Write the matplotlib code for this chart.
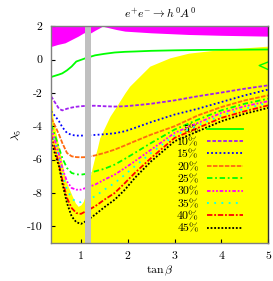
import numpy as np
import matplotlib
matplotlib.use("Agg")
import matplotlib.pyplot as plt

# fonts: computer modern look
plt.rcParams["font.family"] = "cmr10"
plt.rcParams["mathtext.fontset"] = "cm"
plt.rcParams["axes.unicode_minus"] = False
plt.rcParams["font.size"] = 8.5

# tan(beta) grid the curves were read on
tanb = [0.36, 0.45, 0.53, 0.6, 0.7, 0.8, 0.9, 1.0, 1.1, 1.3, 1.5, 1.72, 1.94, 2.15, 2.5, 3.0, 3.5, 4.0, 4.5, 5.0]

lam_5 = [-1.05, -0.97, -0.9, -0.83, -0.65, -0.42, -0.12, -0.02, 0.08, 0.25, 0.34, 0.42, 0.46, 0.48, 0.52, 0.55, 0.57, 0.58, 0.59, 0.6]
lam_10 = [-2.2, -2.6, -2.95, -3.05, -2.95, -2.88, -2.83, -2.8, -2.78, -2.77, -2.8, -2.82, -2.8, -2.75, -2.65, -2.45, -2.2, -1.98, -1.75, -1.55]
lam_15 = [-3.1, -3.4, -3.7, -4.05, -4.4, -4.52, -4.56, -4.56, -4.55, -4.52, -4.48, -4.42, -4.3, -4.1, -3.75, -3.3, -2.95, -2.55, -2.15, -1.8]
lam_20 = [-3.5, -4.0, -4.5, -5.0, -5.6, -5.8, -5.85, -5.86, -5.85, -5.75, -5.6, -5.4, -5.15, -4.9, -4.5, -4.0, -3.35, -2.85, -2.45, -2.15]
lam_25 = [-3.9, -4.6, -5.3, -5.9, -6.5, -6.8, -6.88, -6.9, -6.86, -6.7, -6.55, -6.3, -5.95, -5.6, -5.0, -4.2, -3.6, -3.05, -2.65, -2.35]
lam_30 = [-4.1, -4.9, -5.7, -6.5, -7.3, -7.7, -7.8, -7.8, -7.7, -7.5, -7.2, -6.9, -6.5, -6.1, -5.4, -4.4, -3.8, -3.2, -2.8, -2.5]
lam_35 = [-4.3, -5.1, -6.0, -6.9, -7.8, -8.3, -8.55, -8.55, -8.45, -8.2, -7.8, -7.4, -6.9, -6.4, -5.6, -4.55, -3.95, -3.35, -2.95, -2.6]
lam_40 = [-4.5, -5.4, -6.3, -7.2, -8.3, -8.9, -9.2, -9.25, -9.1, -8.8, -8.4, -8.0, -7.4, -6.8, -5.9, -4.7, -4.1, -3.5, -3.1, -2.75]
lam_45 = [-4.9, -5.7, -6.4, -7.4, -8.6, -9.4, -9.75, -9.85, -9.7, -9.3, -8.85, -8.4, -7.8, -7.1, -6.1, -4.9, -4.3, -3.7, -3.25, -2.9]

# small closed piece of the 5% contour at the right edge
tanb_5b = [5.0, 4.81, 5.0]
lam_5b = [-0.15, -0.36, -0.6]

# yellow region (below this boundary)
tanb_yel = [0.36, 0.4, 0.47, 0.55, 0.62, 0.68, 0.8, 0.88, 0.94, 1.0, 1.05, 1.15, 1.23, 1.3, 1.35, 1.4, 1.62, 1.76, 1.94, 2.04, 2.47, 2.9, 3.3, 4.0, 5.0]
lam_yel = [-1.8, -3.5, -4.5, -5.5, -6.5, -7.3, -8.1, -8.6, -8.8, -8.7, -8.5, -7.6, -6.6, -5.8, -5.3, -4.7, -3.4, -2.8, -2.0, -1.6, -0.4, 0.1, 0.38, 0.6, 0.8]

# magenta region (above this boundary)
tanb_mag = [0.36, 0.5, 0.66, 0.8, 0.94, 1.06, 1.21, 1.3, 1.4, 1.46, 1.51, 1.6, 1.75, 1.94, 2.5, 3.3, 4.0, 5.0]
lam_mag = [0.78, 0.9, 1.0, 1.2, 1.4, 1.6, 1.6, 1.75, 1.9, 2.0, 1.96, 1.9, 1.8, 1.7, 1.6, 1.5, 1.45, 1.4]

# excluded tan(beta) band
band = (1.085, 1.21)

labels = ["5%", "10%", "15%", "20%", "25%", "30%", "35%", "40%", "45%"]
series = [lam_5, lam_10, lam_15, lam_20, lam_25, lam_30, lam_35, lam_40, lam_45]
colors = ["#00ff00", "#a020f0", "#0000ff", "#ff6a10", "#00ff00", "#ff00ff", "#00ffff", "#ff0000", "#000000"]
styles = ["-", (0, (2, 1)), (0, (1, 1.3)), (0, (2.5, 0.8)), (0, (3, 1.5, 1, 1.5)),
          (0, (2, 1, 1, 1, 1, 1)), (0, (1, 3)), (0, (3, 1, 1, 1)), (0, (1, 1))]

fig = plt.figure(figsize=(2.73, 2.81), dpi=100)
ax = fig.add_axes([0.187, 0.135, 0.795, 0.772])

ax.fill_between(tanb_yel, -11, lam_yel, color="#ffff00", lw=0, zorder=1)
ax.fill_between(tanb_mag, lam_mag, 2, color="#ff00ff", lw=0, zorder=1)

for lam, lab, c, ls in zip(series, labels, colors, styles):
    ax.plot(tanb, lam, color=c, linestyle=ls, lw=1.3, label=lab, zorder=3)
ax.plot(tanb_5b, lam_5b, color="#00ff00", lw=1.0, zorder=3)

ax.axvspan(band[0], band[1], color="#c0c0c0", lw=0, zorder=4)

ax.set_xlim(0.36, 5)
ax.set_ylim(-11, 2)
ax.set_xticks([1, 2, 3, 4, 5])
ax.set_yticks([2, 0, -2, -4, -6, -8, -10])
ax.tick_params(direction="in", length=3, width=0.8, pad=6, labelsize=8.5)

for s in ["left", "top", "bottom"]:
    ax.spines[s].set_color("#808080")
ax.spines["right"].set_color("#303030")
for s in ax.spines.values():
    s.set_linewidth(1.0)
    s.set_zorder(5)

ax.set_title(r"$e^{+}e^{-} \rightarrow h^{0}A^{0}$", fontsize=8.5, pad=6)
ax.set_xlabel(r"$\tan\beta$", fontsize=8.5, labelpad=2)
ax.set_ylabel(r"$\lambda_5$", fontsize=8.5, labelpad=2)

ax.legend(loc="lower right", bbox_to_anchor=(0.915, 0.01), frameon=False, markerfirst=False,
          handlelength=3.0, handletextpad=0.7, labelspacing=0.18, fontsize=8.5, borderaxespad=0.2)

fig.savefig("out.png", dpi=100)
